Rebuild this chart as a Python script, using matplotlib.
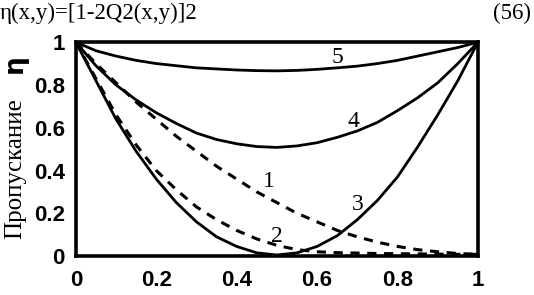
import matplotlib
matplotlib.use("Agg")
import matplotlib.pyplot as plt

x = [0, 0.05, 0.1, 0.15, 0.2, 0.25, 0.3, 0.35, 0.4, 0.45, 0.5,
     0.55, 0.6, 0.65, 0.7, 0.75, 0.8, 0.85, 0.9, 0.95, 1.0]
curve1 = [1.0, 0.90, 0.81, 0.72, 0.64, 0.56, 0.49, 0.42, 0.36, 0.30, 0.25,
          0.20, 0.16, 0.12, 0.09, 0.065, 0.045, 0.03, 0.02, 0.012, 0.008]
curve2 = [1.0, 0.83, 0.66, 0.52, 0.40, 0.31, 0.23, 0.17, 0.12, 0.08, 0.05,
          0.03, 0.02, 0.016, 0.014, 0.012, 0.011, 0.01, 0.009, 0.008, 0.008]
curve3 = [1.0, 0.82, 0.64, 0.49, 0.36, 0.25, 0.16, 0.09, 0.045, 0.015, 0.005,
          0.015, 0.045, 0.095, 0.17, 0.26, 0.37, 0.51, 0.66, 0.82, 1.0]
curve4 = [1.0, 0.89, 0.80, 0.73, 0.67, 0.62, 0.575, 0.545, 0.525, 0.512, 0.508,
          0.515, 0.53, 0.555, 0.585, 0.625, 0.68, 0.74, 0.81, 0.90, 1.0]
curve5 = [1.0, 0.96, 0.935, 0.915, 0.90, 0.89, 0.88, 0.875, 0.87, 0.867, 0.866,
          0.868, 0.873, 0.88, 0.888, 0.90, 0.915, 0.935, 0.955, 0.975, 1.0]

curve_labels = ["1", "2", "3", "4", "5"]
label_pos = [(0.48, 0.35), (0.50, 0.09), (0.70, 0.24), (0.69, 0.63), (0.65, 0.93)]

xticks = [0, 0.2, 0.4, 0.6, 0.8, 1]
xtick_labels = ["0", "0.2", "0.4", "0.6", "0.8", "1"]
yticks = [0, 0.2, 0.4, 0.6, 0.8, 1]
ytick_labels = ["0", "0.2", "0.4", "0.6", "0.8", "1"]

fig = plt.figure(figsize=(5.34, 2.95), dpi=100)
ax = fig.add_axes([0.142, 0.132, 0.753, 0.725])

lw = 2.0
ax.plot(x, curve1, color="black", lw=lw + 0.2, linestyle=(0, (3, 2.5)))
ax.plot(x, curve2, color="black", lw=lw + 0.2, linestyle=(0, (3, 2.5)))
ax.plot(x, curve3, color="black", lw=lw)
ax.plot(x, curve4, color="black", lw=lw)
ax.plot(x, curve5, color="black", lw=lw)

for lab, (px, py) in zip(curve_labels, label_pos):
    ax.text(px, py, lab, fontsize=17, family="Liberation Serif",
            ha="center", va="center", color="black")

ax.set_xlim(0, 1)
ax.set_ylim(0, 1)
ax.set_xticks(xticks)
ax.set_xticklabels(xtick_labels)
ax.set_yticks(yticks)
ax.set_yticklabels(ytick_labels)
ax.tick_params(length=0, labelsize=16, pad=8)
for lbl in ax.get_xticklabels() + ax.get_yticklabels():
    lbl.set_family("Liberation Sans")
    lbl.set_fontweight("bold")
ax.tick_params(axis="x", pad=10)
for s in ax.spines.values():
    s.set_linewidth(2.6)

fig.text(0.028, 0.43, "Пропускание", rotation=90, family="Liberation Serif",
         fontsize=18, ha="center", va="center")
fig.text(0.028, 0.785, "η", rotation=90, family="DejaVu Sans", fontweight="bold",
         fontsize=19, ha="center", va="center")

fig.text(0.0, 0.955, "η(x,y)=[1-2Q2(x,y)]2", family="Liberation Serif",
         fontsize=16.5, ha="left", va="center")
fig.text(0.995, 0.955, "(56)", family="Liberation Serif",
         fontsize=16.5, ha="right", va="center")

fig.savefig("out.png", dpi=100)
